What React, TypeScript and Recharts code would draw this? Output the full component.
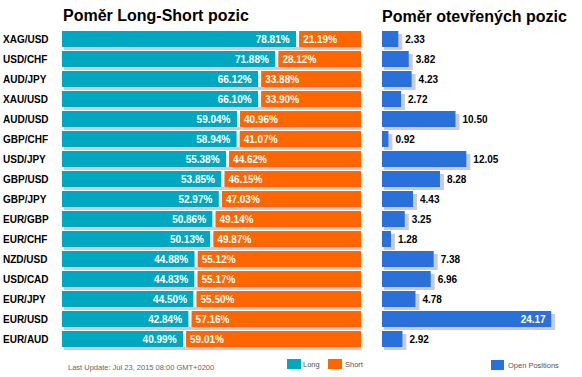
import React from "react";
import { BarChart, Bar, XAxis, YAxis, LabelList } from "recharts";

const pairs = [
  "XAG/USD", "USD/CHF", "AUD/JPY", "XAU/USD", "AUD/USD", "GBP/CHF", "USD/JPY", "GBP/USD",
  "GBP/JPY", "EUR/GBP", "EUR/CHF", "NZD/USD", "USD/CAD", "EUR/JPY", "EUR/USD", "EUR/AUD",
];
const longPct = [78.81, 71.88, 66.12, 66.1, 59.04, 58.94, 55.38, 53.85, 52.97, 50.86, 50.13, 44.88, 44.83, 44.5, 42.84, 40.99];
const shortPct = [21.19, 28.12, 33.88, 33.9, 40.96, 41.07, 44.62, 46.15, 47.03, 49.14, 49.87, 55.12, 55.17, 55.5, 57.16, 59.01];
const openPos = [2.33, 3.82, 4.23, 2.72, 10.5, 0.92, 12.05, 8.28, 4.43, 3.25, 1.28, 7.38, 6.96, 4.78, 24.17, 2.92];

const data = pairs.map((pair, i) => ({
  pair,
  long: longPct[i],
  short: shortPct[i],
  open: openPos[i],
}));

const FONT = '"Liberation Sans", Arial, sans-serif';
const TEAL = "#00A7C1";
const ORANGE = "#FF6600";
const BLUE = "#2A70DA";
const SHADOW = "#CCCCCC";

function LongShape(props: any) {
  const { x, y, width, height, payload } = props;
  const full = (width * 100) / payload.long;
  return (
    <g>
      <rect x={x + 2} y={y + 3} width={full + 1} height={height} fill={SHADOW} />
      <rect x={x} y={y} width={width - 1.5} height={height} fill={TEAL} />
    </g>
  );
}

function ShortShape(props: any) {
  const { x, y, width, height } = props;
  return (
    <g>
      <rect x={x - 1.5} y={y} width={3} height={height} fill="#fff" />
      <rect x={x + 1.5} y={y} width={width - 1.5} height={height} fill={ORANGE} />
    </g>
  );
}

function OpenShape(props: any) {
  const { x, y, width, height } = props;
  return (
    <g>
      <rect x={x + 2} y={y + 3} width={width + 2} height={height} fill={SHADOW} />
      <rect x={x} y={y} width={width} height={height} fill={BLUE} />
    </g>
  );
}

function LongLabel(props: any) {
  const { x, y, width, height, value } = props;
  return (
    <text x={x + width - 8} y={y + height / 2 + 3.6} textAnchor="end" fill="#fff"
      fontSize={10} fontWeight="bold" fontFamily={FONT}>
      {Number(value).toFixed(2)}%
    </text>
  );
}

function ShortLabel(props: any) {
  const { x, y, height, value } = props;
  return (
    <text x={x + 5.5} y={y + height / 2 + 3.6} textAnchor="start" fill="#fff"
      fontSize={10} fontWeight="bold" fontFamily={FONT}>
      {Number(value).toFixed(2)}%
    </text>
  );
}

function OpenLabel(props: any) {
  const { x, y, width, height, value } = props;
  const inside = value > 20;
  return (
    <text x={inside ? x + width - 5.5 : x + width + 7} y={y + height / 2 + 3.6}
      textAnchor={inside ? "end" : "start"} fill={inside ? "#fff" : "#000"}
      fontSize={10} fontWeight="bold" fontFamily={FONT}>
      {Number(value).toFixed(2)}
    </text>
  );
}

function PairTick(props: any) {
  const { y, payload } = props;
  return (
    <text x={3} y={y + 3.8} textAnchor="start" fill="#000" fontSize={10}
      fontWeight="bold" fontFamily={FONT}>
      {payload.value}
    </text>
  );
}

export default function App() {
  return (
    <div style={{ position: "absolute", left: 0, top: 0, width: 582, height: 377, background: "#fff", fontFamily: FONT }}>
      <div style={{ position: "absolute", left: 0, top: 0 }}>
        <BarChart width={370} height={377} data={data} layout="vertical" barSize={16}
          margin={{ top: 29, right: 9, bottom: 28, left: 0 }}>
          <XAxis type="number" domain={[0, 100]} allowDataOverflow hide />
          <YAxis type="category" dataKey="pair" width={62} interval={0} axisLine={false} tickLine={false} tick={<PairTick />} />
          <Bar dataKey="long" stackId="ls" shape={<LongShape />} isAnimationActive={false}>
            <LabelList dataKey="long" content={<LongLabel />} />
          </Bar>
          <Bar dataKey="short" stackId="ls" shape={<ShortShape />} isAnimationActive={false}>
            <LabelList dataKey="short" content={<ShortLabel />} />
          </Bar>
        </BarChart>
      </div>
      <div style={{ position: "absolute", left: 370, top: 0 }}>
        <BarChart width={212} height={377} data={data} layout="vertical" barSize={16}
          margin={{ top: 29, right: 25, bottom: 28, left: 12 }}>
          <XAxis type="number" domain={[0, 25]} allowDataOverflow hide />
          <YAxis type="category" dataKey="pair" hide />
          <Bar dataKey="open" shape={<OpenShape />} isAnimationActive={false}>
            <LabelList dataKey="open" content={<OpenLabel />} />
          </Bar>
        </BarChart>
      </div>
      <svg width={582} height={377} style={{ position: "absolute", left: 0, top: 0, pointerEvents: "none" }}>
        <text x={63} y={21} fontSize={16} fontWeight="bold" fontFamily={FONT} fill="#000">Poměr Long-Short pozic</text>
        <text x={382} y={22} fontSize={16} fontWeight="bold" fontFamily={FONT} fill="#000">Poměr otevřených pozic</text>
        <text x={68} y={370} fontSize={7.5} fontFamily={FONT} fill="#666">Last Update: Jul 23, 2015 08:00 GMT+0200</text>
        <rect x={287} y={359} width={14} height={10} fill={TEAL} />
        <text x={303} y={367} fontSize={7.5} fontFamily={FONT} fill="#555">Long</text>
        <rect x={328} y={359} width={14} height={10} fill={ORANGE} />
        <text x={345} y={367} fontSize={7.5} fontFamily={FONT} fill="#555">Short</text>
        <rect x={491} y={360} width={13} height={10} fill={BLUE} />
        <text x={508} y={368} fontSize={7.5} fontFamily={FONT} fill="#555">Open Positions</text>
      </svg>
    </div>
  );
}
